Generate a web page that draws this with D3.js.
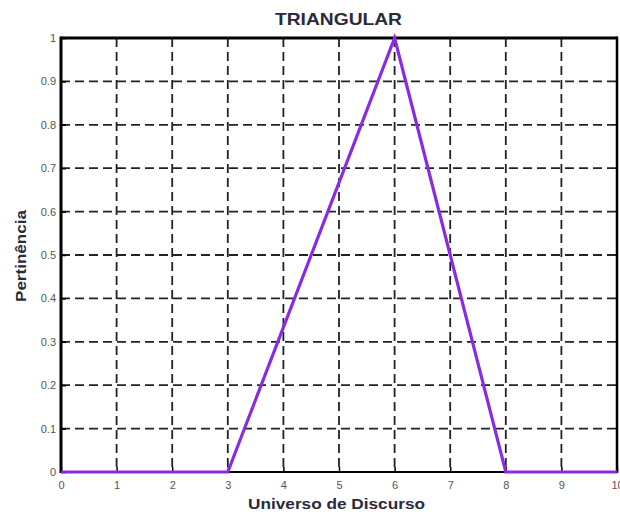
<!DOCTYPE html>
<html><head><meta charset="utf-8">
<script src="https://cdn.jsdelivr.net/npm/d3@7"></script>
<style>body{margin:0;background:#fff}svg{display:block}</style>
</head><body>
<script>
const titleText = "TRIANGULAR";
const xLabel = "Universo de Discurso";
const yLabel = "Pertinência";
const xValues = [0, 3, 6, 8, 10];
const yValues = [0, 0, 1, 0, 0];
const xTicks = [0,1,2,3,4,5,6,7,8,9,10];
const yTicks = [0,0.1,0.2,0.3,0.4,0.5,0.6,0.7,0.8,0.9,1];

const W = 620, H = 514;
const m = {left: 61, right: 3, top: 38, bottom: 42};
const svg = d3.select("body").append("svg").attr("width", W).attr("height", H);
const x = d3.scaleLinear().domain([0,10]).range([m.left, W - m.right]);
const y = d3.scaleLinear().domain([0,1]).range([H - m.bottom, m.top]);

const g = svg.append("g");
// grid
g.selectAll(".vg").data(xTicks.slice(1,-1)).enter().append("line")
  .attr("x1", d=>x(d)).attr("x2", d=>x(d)).attr("y1", y(1)).attr("y2", y(0))
  .attr("stroke", "#222").attr("stroke-width", 1.8).attr("stroke-dasharray", "9,5");
g.selectAll(".hg").data(yTicks.slice(1,-1)).enter().append("line")
  .attr("y1", d=>y(d)).attr("y2", d=>y(d)).attr("x1", x(0)).attr("x2", x(10))
  .attr("stroke", "#222").attr("stroke-width", 1.8).attr("stroke-dasharray", "9,5");

// axes with labels
const xa = svg.append("g").attr("transform", `translate(0,${y(0)})`)
  .call(d3.axisBottom(x).tickValues(xTicks).tickSize(-5).tickPadding(9).tickFormat(d3.format("d")));
const ya = svg.append("g").attr("transform", `translate(${x(0)},0)`)
  .call(d3.axisLeft(y).tickValues(yTicks).tickSize(-5).tickPadding(5).tickFormat(d=>d===0||d===1?String(d):d3.format(".1f")(d)));
[xa, ya].forEach(a => {
  a.select(".domain").remove();
  a.selectAll(".tick line").attr("stroke", "#000").attr("stroke-width", 1.5);
  a.selectAll(".tick text").attr("fill", "#555").attr("font-family", "Liberation Sans, Arial, sans-serif").attr("font-size", 11);
});

// border
svg.append("line").attr("x1", x(0)).attr("x2", x(10)).attr("y1", y(0)).attr("y2", y(0)).attr("stroke", "#000").attr("stroke-width", 2);
svg.append("line").attr("x1", x(0)).attr("x2", x(10)).attr("y1", y(1)).attr("y2", y(1)).attr("stroke", "#000").attr("stroke-width", 3);
svg.append("line").attr("x1", x(0)).attr("x2", x(0)).attr("y1", y(1)-1.5).attr("y2", y(0)+1).attr("stroke", "#000").attr("stroke-width", 3);
svg.append("line").attr("x1", x(10)).attr("x2", x(10)).attr("y1", y(1)-1.5).attr("y2", y(0)+1).attr("stroke", "#000").attr("stroke-width", 2.5);

// data line
const pts = xValues.map((v,i)=>[v, yValues[i]]);
svg.append("path").datum(pts)
  .attr("d", d3.line().x(d=>x(d[0])).y(d=>y(d[1])))
  .attr("fill", "none").attr("stroke", "#8a2be2").attr("stroke-width", 3.2).attr("stroke-linejoin", "miter");

// titles
const font = "Liberation Sans, Arial, sans-serif";
svg.append("text").attr("x", 338.5).attr("y", 25).attr("text-anchor", "middle")
  .attr("font-family", font).attr("font-weight", "bold").attr("font-size", 16.5)
  .attr("fill", "#2a2a3a").attr("textLength", 127).attr("lengthAdjust", "spacingAndGlyphs").text(titleText);
svg.append("text").attr("x", 336.5).attr("y", 509).attr("text-anchor", "middle")
  .attr("font-family", font).attr("font-weight", "bold").attr("font-size", 15)
  .attr("fill", "#2a2a3a").attr("textLength", 177).attr("lengthAdjust", "spacingAndGlyphs").text(xLabel);
svg.append("text").attr("transform", "translate(26,256) rotate(-90)").attr("text-anchor", "middle")
  .attr("font-family", font).attr("font-weight", "bold").attr("font-size", 14)
  .attr("fill", "#2a2a3a").attr("textLength", 92).attr("lengthAdjust", "spacingAndGlyphs").text(yLabel);
</script>
</body></html>
